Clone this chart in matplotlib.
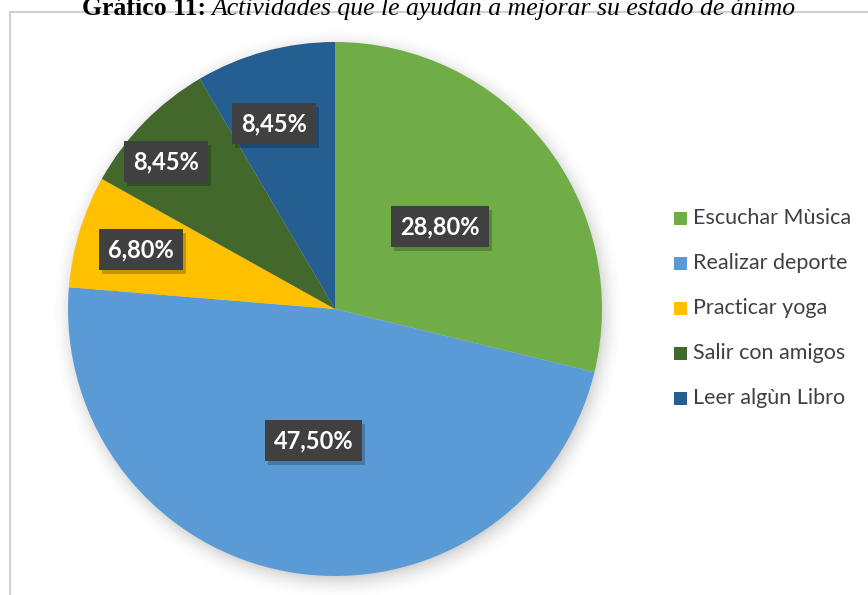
import matplotlib.pyplot as plt
import numpy as np

# datos del grafico
categorias = ['Escuchar Mùsica', 'Realizar deporte', 'Practicar yoga',
              'Salir con amigos', 'Leer algùn Libro']
porcentajes = [28.80, 47.50, 6.80, 8.45, 8.45]
etiquetas = ['28,80%', '47,50%', '6,80%', '8,45%', '8,45%']
colores = ['#70AD47', '#5B9BD5', '#FFC000', '#43682B', '#255E91']

W, H = 868, 595
fig = plt.figure(figsize=(W / 100, H / 100), dpi=100)
ax = fig.add_axes([0, 0, 1, 1])
ax.set_xlim(0, W)
ax.set_ylim(0, H)
ax.axis('off')

# marco del grafico
ax.plot([10, 10, W + 5], [-5, H - 12, H - 12], color='#d0d0d0', lw=1.5,
        solid_capstyle='butt')

cx, cy, r = 335, H - 309, 267

# sombra suave del pastel
yy, xx = np.mgrid[0:H, 0:W]
d = np.hypot(xx - (cx + 2), (H - yy) - (cy - 4))
alpha = np.clip(1 - (d - r + 6) / 26, 0, 1) ** 2 * 0.35
sombra = np.zeros((H, W, 4))
sombra[..., :3] = 0.45
sombra[..., 3] = alpha
ax.imshow(sombra, extent=[0, W, 0, H], origin='upper', zorder=1)

wedges, _ = ax.pie(porcentajes, colors=colores, startangle=90,
                   counterclock=False, center=(cx, cy), radius=r,
                   wedgeprops=dict(linewidth=0))
for w in wedges:
    w.set_zorder(2)
ax.set_xlim(0, W)
ax.set_ylim(0, H)
ax.set_aspect('equal')

# etiquetas de datos (posiciones por angulo medio de cada sector)
fracs = [0.50, 0.50, 0.76, 0.84, 0.73]
giros = [0, 0, 0, 3.4, 3.0]
ang = 90.0
for p, lab, f, g in zip(porcentajes, etiquetas, fracs, giros):
    mid = np.radians(ang - p * 3.6 / 2 + g)
    ang -= p * 3.6
    tx = cx + f * r * np.cos(mid)
    ty = cy + f * r * np.sin(mid)
    ax.text(tx + 3, ty - 4, lab, fontsize=17, fontweight='bold',
            family='Lato', color='none', ha='center', va='center', zorder=3,
            bbox=dict(boxstyle='square,pad=0.38', fc='#000000', alpha=0.22,
                      ec='none'))
    ax.text(tx, ty, lab, fontsize=17, fontweight='bold', family='Lato',
            color='white', ha='center', va='center', zorder=4,
            bbox=dict(boxstyle='square,pad=0.38', fc='#404040', ec='none'))

# leyenda
for i, (cat, col) in enumerate(zip(categorias, colores)):
    ly = H - (218 + 45 * i)
    ax.add_patch(plt.Rectangle((674, ly - 6.5), 13, 13, color=col, lw=0,
                               zorder=3))
    ax.text(693, ly, cat, fontsize=15.5, family='Lato', color='#404040',
            ha='left', va='center', zorder=3)

# titulo (recortado arriba como en la imagen)
ax.text(206, H - 15, 'Gráfico 11:', fontsize=18.5, fontweight='bold',
        family='Liberation Serif', ha='right', va='baseline', color='black')
ax.text(211, H - 15, 'Actividades que le ayudan a mejorar su estado de ánimo',
        fontsize=18.5, style='italic', family='Liberation Serif', ha='left',
        va='baseline', color='black')

fig.savefig('out.png', dpi=100)
